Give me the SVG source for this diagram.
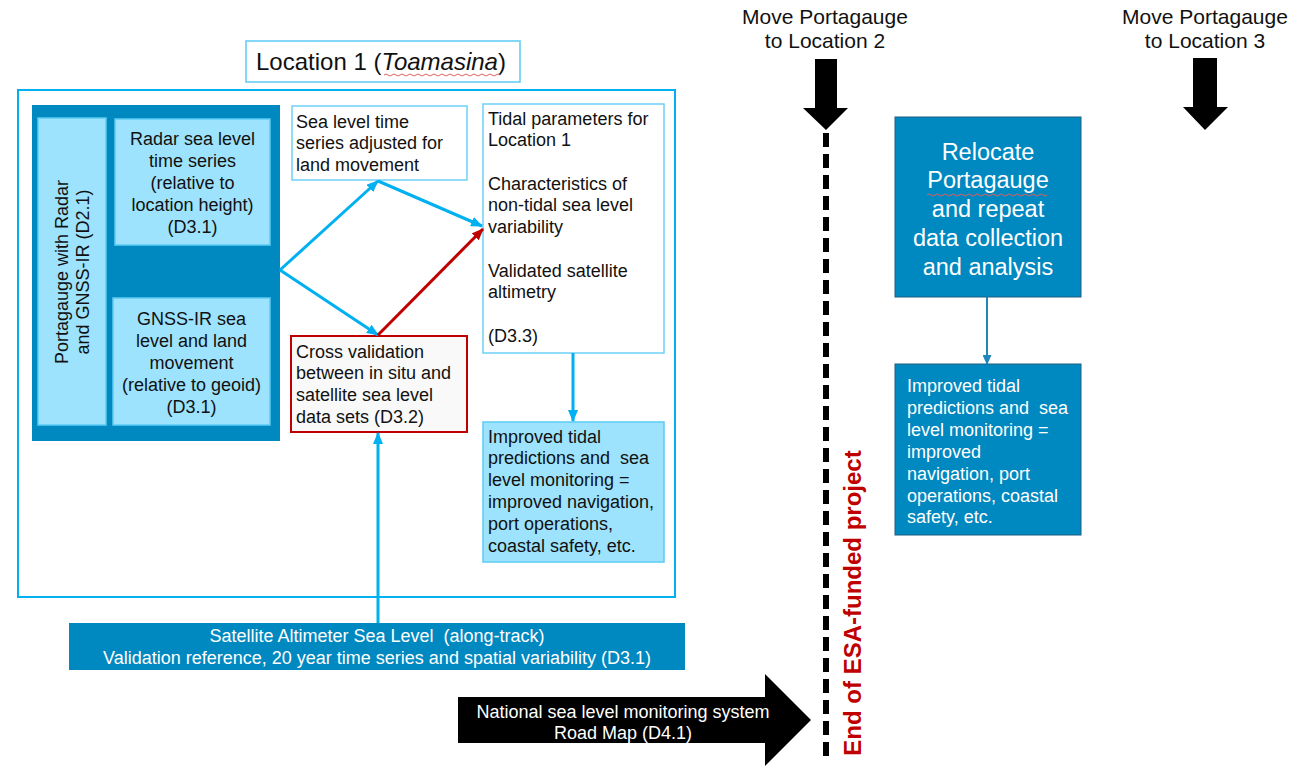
<svg xmlns="http://www.w3.org/2000/svg" width="1314" height="766" viewBox="0 0 1314 766">
  <defs>
    <style>
      text { font-family: "Liberation Sans", Arial, sans-serif; fill: #111; }
      .body { font-size: 18px; }
      .mid { text-anchor: middle; }
      .white { fill: #ffffff; }
      .dark { fill: #0088C0; }
      .light { fill: #9DE3FD; stroke: #5CCBF5; stroke-width: 1.5; }
      .plain { fill: #ffffff; stroke: #6DD1F6; stroke-width: 1.5; }
      .link { fill: none; stroke: #00B0F0; stroke-width: 3; }
      .squiggle { fill: none; stroke: #E06060; stroke-width: 1; }
      .move { font-size: 21px; text-anchor: middle; }
      .big { font-size: 23.5px; text-anchor: middle; fill: #ffffff; }
    </style>
    <marker id="headBlue" markerWidth="12" markerHeight="10" refX="11" refY="5" orient="auto" markerUnits="userSpaceOnUse">
      <path d="M0,0 L12,5 L0,10 Z" fill="#00B0F0"/>
    </marker>
    <marker id="headRed" markerWidth="12" markerHeight="10" refX="11" refY="5" orient="auto" markerUnits="userSpaceOnUse">
      <path d="M0,0 L12,5 L0,10 Z" fill="#C00000"/>
    </marker>
    <marker id="headDark" markerWidth="10" markerHeight="9" refX="9" refY="4.5" orient="auto" markerUnits="userSpaceOnUse">
      <path d="M0,0 L10,4.5 L0,9 Z" fill="#1E86B9"/>
    </marker>
  </defs>

  <rect width="1314" height="766" fill="#ffffff"/>

  <!-- Location 1 frame -->
  <g id="location1">
    <rect x="18" y="90" width="657" height="507" fill="none" stroke="#00B0F0" stroke-width="2"/>
    <rect x="246" y="41" width="274" height="41" fill="#ffffff" stroke="#5CCBF5" stroke-width="1.5"/>
    <text x="256" y="70" font-size="24">Location 1 (<tspan font-style="italic">Toamasina</tspan>)</text>
    <path class="squiggle" d="M384,75 q2,-2 4,0 t4,0 t4,0 t4,0 t4,0 t4,0 t4,0 t4,0 t4,0 t4,0 t4,0 t4,0 t4,0 t4,0 t4,0 t4,0 t4,0 t4,0 t4,0 t4,0 t4,0 t4,0 t4,0 t4,0 t4,0 t4,0 t4,0 t4,0 t4,0"/>
  </g>

  <!-- Portagauge instrument block -->
  <g id="portagauge">
    <rect x="32" y="105" width="248" height="336" class="dark"/>
    <rect x="38" y="118" width="68" height="307" class="light"/>
    <g transform="translate(72,272) rotate(-90)">
      <text class="body mid" x="0" y="-4">Portagauge with Radar</text>
      <text class="body mid" x="0" y="17">and GNSS-IR (D2.1)</text>
    </g>
  </g>

  <g id="radar">
    <rect x="115" y="119" width="155" height="126" class="light"/>
    <text class="body mid" x="192.5" y="145">Radar sea level</text>
    <text class="body mid" x="192.5" y="167">time series</text>
    <text class="body mid" x="192.5" y="189">(relative to</text>
    <text class="body mid" x="192.5" y="211">location height)</text>
    <text class="body mid" x="192.5" y="233">(D3.1)</text>
  </g>

  <g id="gnss">
    <rect x="113" y="298" width="157" height="127" class="light"/>
    <text class="body mid" x="191.5" y="325">GNSS-IR sea</text>
    <text class="body mid" x="191.5" y="347">level and land</text>
    <text class="body mid" x="191.5" y="369">movement</text>
    <text class="body mid" x="191.5" y="391">(relative to geoid)</text>
    <text class="body mid" x="191.5" y="413">(D3.1)</text>
  </g>

  <g id="adjusted">
    <rect x="292" y="106" width="175" height="74" class="plain"/>
    <text class="body" x="296" y="128">Sea level time</text>
    <text class="body" x="296" y="149">series adjusted for</text>
    <text class="body" x="296" y="171">land movement</text>
  </g>

  <g id="crossval">
    <rect x="291" y="336" width="176" height="96" fill="#F9F9F9" stroke="#C00000" stroke-width="2"/>
    <text class="body" x="296" y="358">Cross validation</text>
    <text class="body" x="296" y="379">between in situ and</text>
    <text class="body" x="296" y="401">satellite sea level</text>
    <text class="body" x="296" y="423">data sets (D3.2)</text>
  </g>

  <g id="tidal">
    <rect x="483" y="104" width="181" height="249" class="plain"/>
    <text class="body" x="488" y="125">Tidal parameters for</text>
    <text class="body" x="488" y="146">Location 1</text>
    <text class="body" x="488" y="190">Characteristics of</text>
    <text class="body" x="488" y="211">non-tidal sea level</text>
    <text class="body" x="488" y="233">variability</text>
    <text class="body" x="488" y="277">Validated satellite</text>
    <text class="body" x="488" y="298">altimetry</text>
    <text class="body" x="488" y="342">(D3.3)</text>
  </g>

  <g id="improved1">
    <rect x="483" y="422" width="181" height="140" class="light"/>
    <text class="body" x="488" y="443">Improved tidal</text>
    <text class="body" x="488" y="464" xml:space="preserve">predictions and  sea</text>
    <text class="body" x="488" y="486">level monitoring =</text>
    <text class="body" x="488" y="508">improved navigation,</text>
    <text class="body" x="488" y="530">port operations,</text>
    <text class="body" x="488" y="552">coastal safety, etc.</text>
  </g>

  <g id="altimeter">
    <rect x="69" y="623" width="616" height="47" class="dark"/>
    <text class="body mid white" x="377" y="642" xml:space="preserve">Satellite Altimeter Sea Level  (along-track)</text>
    <text class="body mid white" x="377" y="664">Validation reference, 20 year time series and spatial variability (D3.1)</text>
  </g>

  <g id="roadmap">
    <path d="M458,697 H765 V674 L811,720 L765,766 V743 H458 Z" fill="#000000"/>
    <text class="body mid white" x="623" y="718">National sea level monitoring system</text>
    <text class="body mid white" x="623" y="739">Road Map (D4.1)</text>
  </g>

  <!-- project end marker -->
  <g id="project-end">
    <line x1="826" y1="133" x2="826" y2="762" stroke="#000000" stroke-width="6" stroke-dasharray="14 7"/>
    <text transform="translate(853,603) rotate(-90)" x="0" y="8" font-size="24" font-weight="bold" text-anchor="middle" style="fill:#C00000">End of ESA-funded project</text>
  </g>

  <g id="move2">
    <text class="move" x="825" y="24">Move Portagauge</text>
    <text class="move" x="825" y="48">to Location 2</text>
    <path d="M815,59 H837 V108 H848 L826,130 L803,108 H815 Z" fill="#000000"/>
  </g>

  <g id="move3">
    <text class="move" x="1205" y="24">Move Portagauge</text>
    <text class="move" x="1205" y="48">to Location 3</text>
    <path d="M1193,58 H1217 V107 H1228 L1205,130 L1183,107 H1193 Z" fill="#000000"/>
  </g>

  <g id="relocate">
    <rect x="895" y="117" width="186" height="180" class="dark" stroke="#1F5F80" stroke-width="1"/>
    <text class="big" x="988" y="160">Relocate</text>
    <text class="big" x="988" y="188">Portagauge</text>
    <path class="squiggle" d="M927,195 q2,-2 4,0 t4,0 t4,0 t4,0 t4,0 t4,0 t4,0 t4,0 t4,0 t4,0 t4,0 t4,0 t4,0 t4,0 t4,0 t4,0 t4,0 t4,0 t4,0 t4,0 t4,0 t4,0 t4,0 t4,0 t4,0 t4,0 t4,0 t4,0 t4,0 t4,0"/>
    <text class="big" x="988" y="217">and repeat</text>
    <text class="big" x="988" y="246">data collection</text>
    <text class="big" x="988" y="275">and analysis</text>
  </g>

  <g id="improved2">
    <rect x="895" y="364" width="186" height="171" class="dark" stroke="#1F5F80" stroke-width="1"/>
    <text class="body white" x="907" y="392">Improved tidal</text>
    <text class="body white" x="907" y="414" xml:space="preserve">predictions and  sea</text>
    <text class="body white" x="907" y="436">level monitoring =</text>
    <text class="body white" x="907" y="458">improved</text>
    <text class="body white" x="907" y="480">navigation, port</text>
    <text class="body white" x="907" y="502">operations, coastal</text>
    <text class="body white" x="907" y="523">safety, etc.</text>
  </g>

  <!-- connectors -->
  <g id="connectors">
    <line class="link" x1="280" y1="270" x2="378" y2="181" marker-end="url(#headBlue)"/>
    <line class="link" x1="280" y1="270" x2="378" y2="335" marker-end="url(#headBlue)"/>
    <line class="link" x1="378" y1="181" x2="482" y2="226" marker-end="url(#headBlue)"/>
    <line x1="378" y1="335" x2="483" y2="229" stroke="#C00000" stroke-width="3" marker-end="url(#headRed)"/>
    <line class="link" x1="573" y1="353" x2="573" y2="421" marker-end="url(#headBlue)"/>
    <line class="link" x1="378" y1="623" x2="378" y2="433" marker-end="url(#headBlue)"/>
    <line x1="987" y1="297" x2="987" y2="364" stroke="#1E86B9" stroke-width="2" marker-end="url(#headDark)"/>
  </g>
</svg>
